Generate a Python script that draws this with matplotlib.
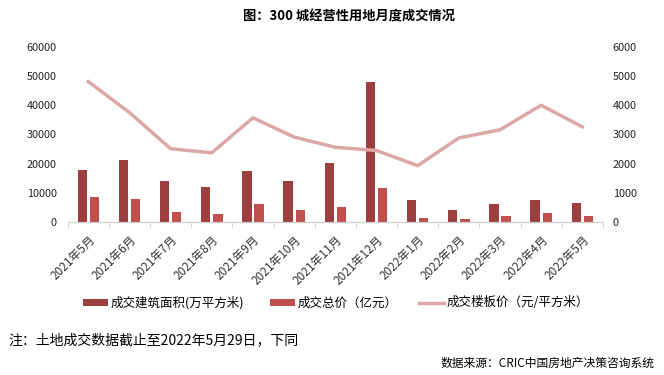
import numpy as np
import matplotlib.pyplot as plt

plt.rcParams['font.family'] = ['Noto Sans CJK SC', 'DejaVu Sans']

# data
months = ['2021年5月', '2021年6月', '2021年7月', '2021年8月', '2021年9月', '2021年10月',
          '2021年11月', '2021年12月', '2022年1月', '2022年2月', '2022年3月', '2022年4月', '2022年5月']
area = [17900, 21400, 14200, 12100, 17600, 14200, 20300, 48100, 7600, 4200, 6300, 7600, 6600]
total_price = [8700, 8000, 3500, 2800, 6300, 4200, 5200, 11800, 1500, 1100, 2200, 3200, 2200]
floor_price = [4810, 3750, 2510, 2370, 3570, 2910, 2560, 2450, 1930, 2880, 3160, 4000, 3260]

c_area = '#9E3F3F'
c_price = '#C0504D'
c_line = '#DBA8A7'

fig = plt.figure(figsize=(6.64, 3.75), dpi=100)
ax = fig.add_axes([0.102, 0.408, 0.806, 0.467])
ax2 = ax.twinx()

x = np.arange(len(months))
w = 0.226
b1 = ax.bar(x - 0.148, area, w, color=c_area)
b2 = ax.bar(x + 0.148, total_price, w, color=c_price)
ln, = ax2.plot(x, floor_price, color=c_line, lw=2.5)

ax.set_xlim(-0.5, len(months) - 0.5)
ax.set_ylim(0, 60000)
ax2.set_ylim(0, 6000)
ax.set_yticks(np.arange(0, 60001, 10000))
ax2.set_yticks(np.arange(0, 6001, 1000))

for a in (ax, ax2):
    for s in ['top', 'left', 'right']:
        a.spines[s].set_visible(False)
    a.spines['bottom'].set_color('#D0D0D0')
    a.tick_params(axis='y', length=0, labelsize=7.8, colors='#222222')
ax.tick_params(axis='y', pad=8)
ax2.tick_params(axis='y', pad=7)

ax.set_xticks(x)
ax.set_xticklabels(months, rotation=45, ha='right', rotation_mode='anchor',
                   fontsize=8.5, color='#333333')
ax.tick_params(axis='x', length=0, pad=8)
ax.set_xticks(np.arange(-0.5, len(months)), minor=True)
ax.tick_params(axis='x', which='minor', length=4, color='#D0D0D0')

fig.text(0.526, 0.955, '图：300 城经营性用地月度成交情况', ha='center', va='center',
         fontsize=9.5, fontweight='bold')

# three legend entries placed like the original
entries = [(b1, '成交建筑面积(万平方米)', 83), (b2, '成交总价（亿元）', 270),
           (ln, '成交楼板价（元/平方米）', 419)]
for h, lab, px in entries:
    fig.legend([h], [lab], loc='center left', bbox_to_anchor=(px / 664, 0.192),
               frameon=False, fontsize=9, handlelength=2.0, handleheight=0.5,
               handletextpad=0.2, borderpad=0, borderaxespad=0)

fig.text(0.012, 0.093, '注：土地成交数据截止至2022年5月29日，下同', ha='left', va='center',
         fontsize=10)
fig.text(0.985, 0.03, '数据来源：CRIC中国房地产决策咨询系统', ha='right', va='center',
         fontsize=8.5)

fig.savefig('out.png', dpi=100)
